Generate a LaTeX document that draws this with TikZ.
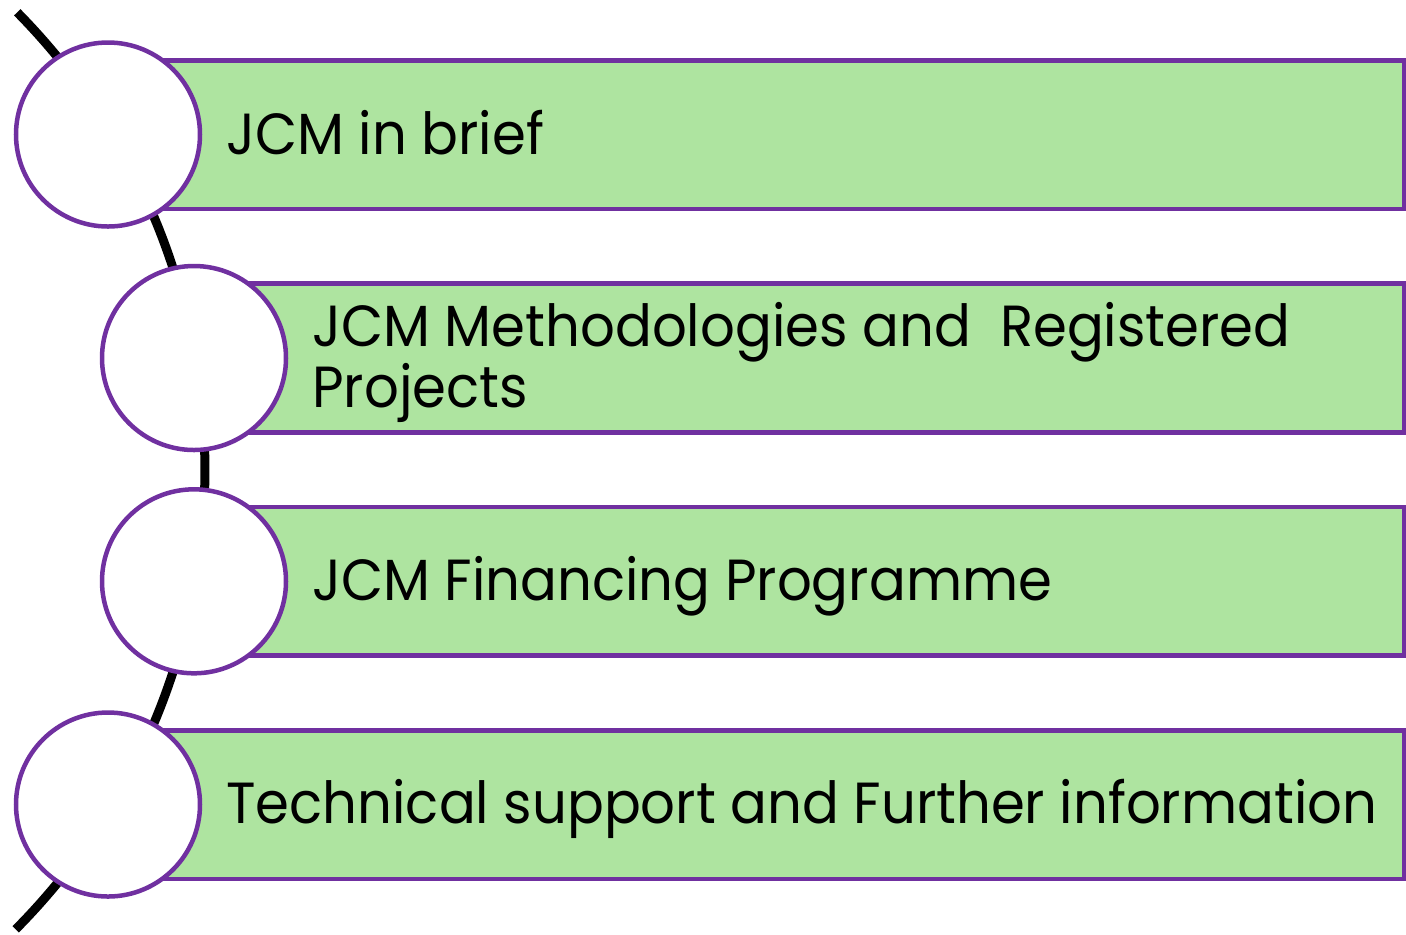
\documentclass[tikz,border=0pt]{standalone}
\usepackage{fontspec}
\setmainfont[FakeStretch=0.94]{Poppins}
\definecolor{pur}{RGB}{112,48,160}
\definecolor{grn}{RGB}{174,228,160}
\begin{document}
\begin{tikzpicture}[x=0.5pt,y=0.5pt,
  bar/.style={draw=pur,line width=2.25pt,fill=grn},
  disc/.style={draw=pur,line width=2.25pt,fill=white},
  spine/.style={draw=black,line width=4.5pt},
  lbl/.style={anchor=base west,inner sep=0pt,font=\fontsize{29pt}{30.5pt}\selectfont,align=left}]
\useasboundingbox (0,0) rectangle (1406,-934);
\coordinate (arcc) at (-446.9,-470);
\draw[spine] (arcc) ++(44.6:651.9) arc[start angle=44.6,end angle=-44.8,radius=651.9];
% bars
\draw[bar] (108,-60.3) rectangle (1403.8,-209);
\draw[bar] (194,-283.7) rectangle (1403.8,-432.3);
\draw[bar] (194,-507) rectangle (1403.8,-655.7);
\draw[bar] (108,-730.3) rectangle (1403.8,-879);
% circles
\draw[disc] (108,-134.5) circle[radius=92];
\draw[disc] (194,-358) circle[radius=92];
\draw[disc] (194,-581.3) circle[radius=92];
\draw[disc] (108,-804.5) circle[radius=92];
% labels
\node[lbl] (t1) at (226,-154) {JCM in brief};
\node[lbl] (t2) at (312,-407) {JCM Methodologies and\ \ Registered\\Projects};
\node[lbl] (t3) at (312,-600) {JCM Financing Programme};
\node[lbl] (t4) at (226,-823) {Technical support and Further information};
\end{tikzpicture}
\end{document}
